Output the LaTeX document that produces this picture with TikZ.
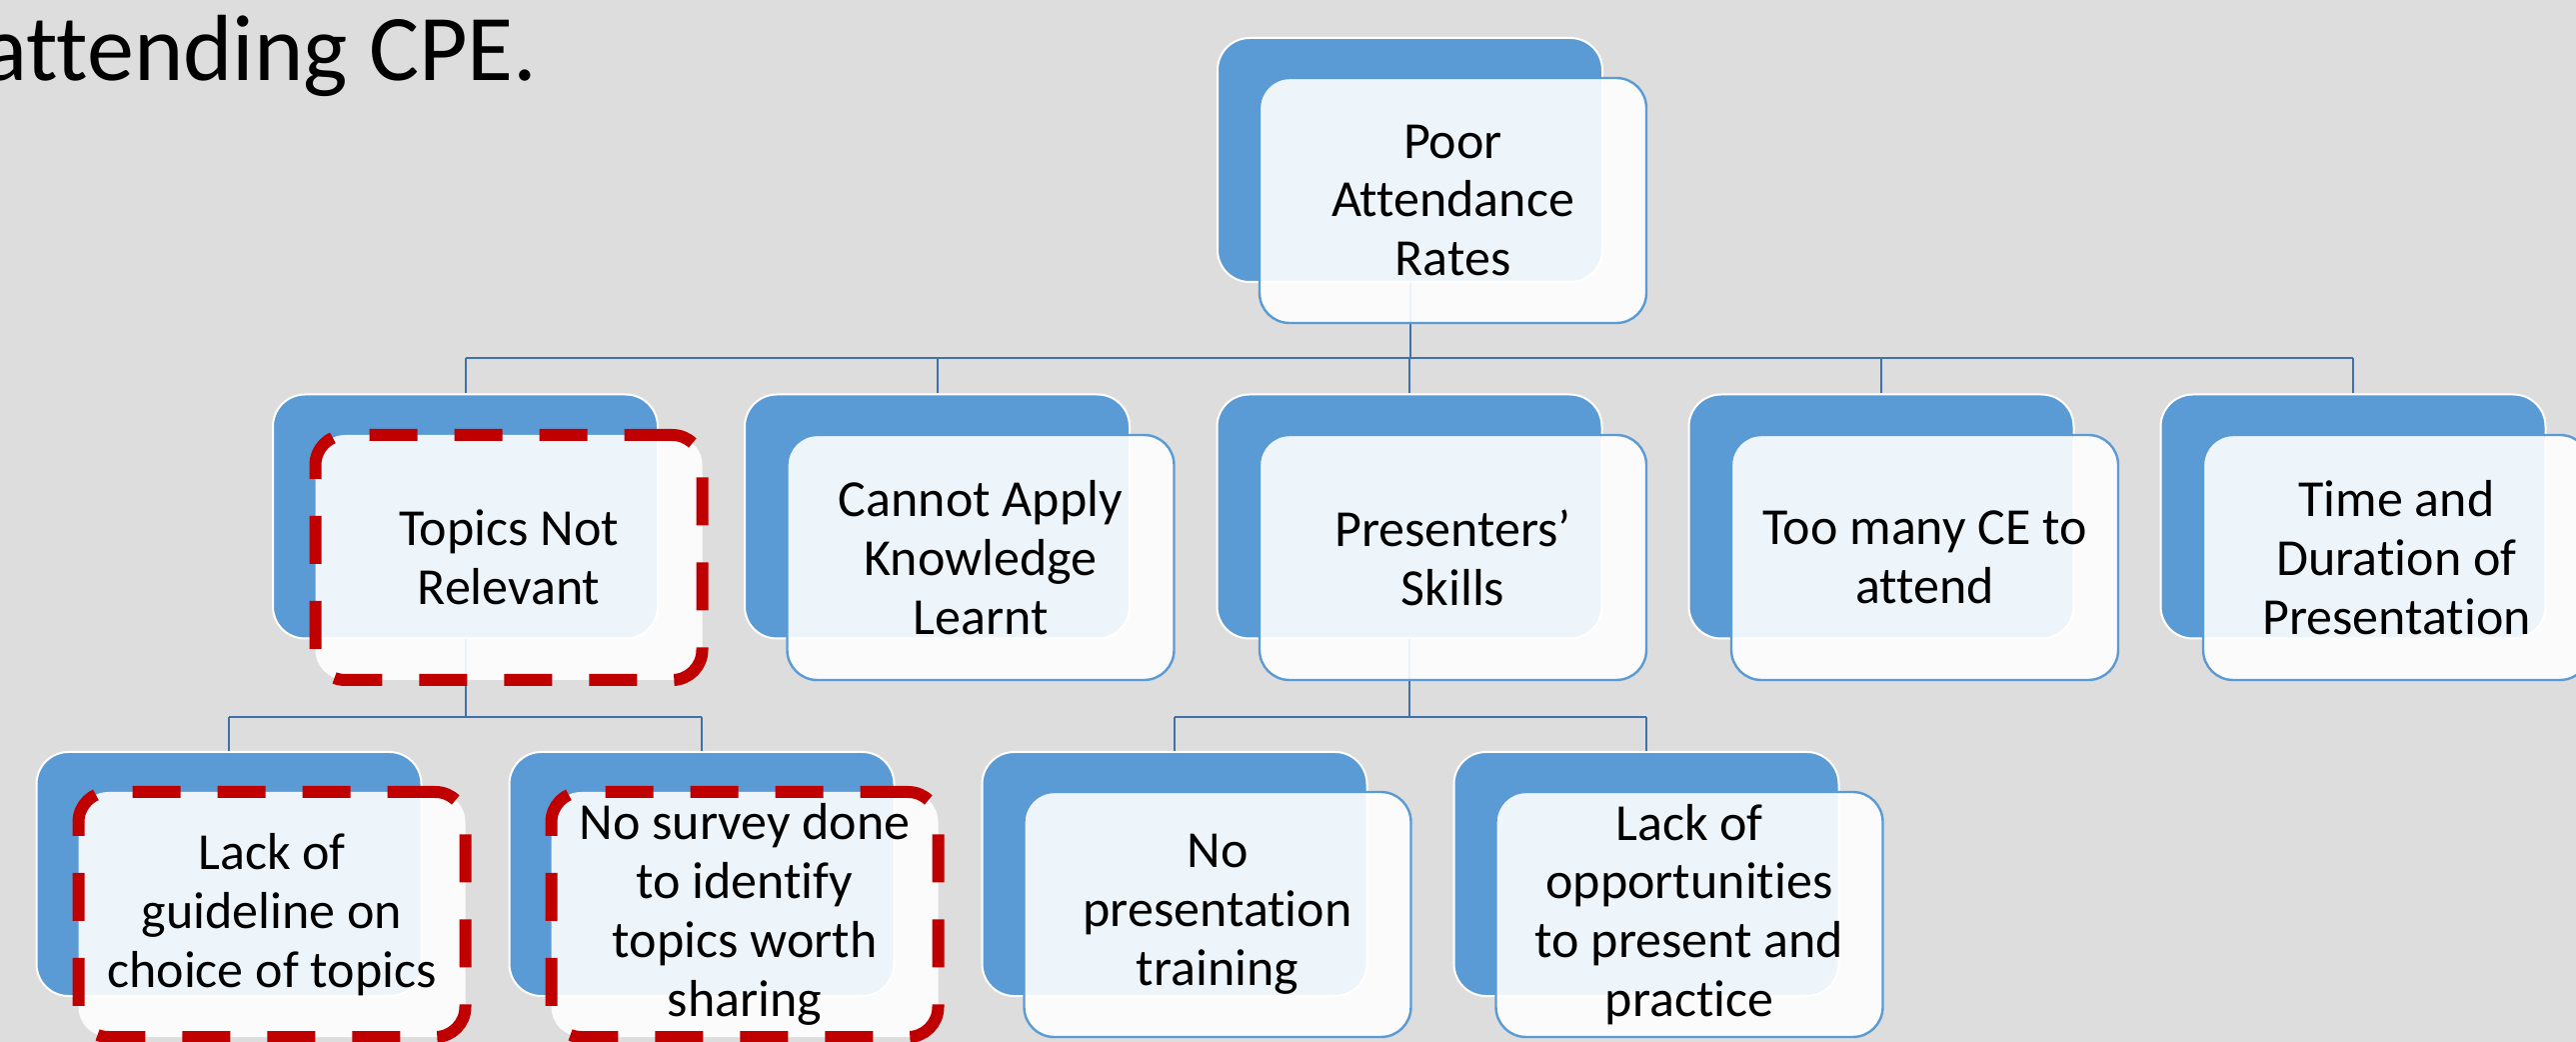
\documentclass[tikz,border=0pt]{standalone}
\usepackage{fontspec}
\setmainfont{Carlito}[RawFeature={-liga;-clig;-calt;-rlig;-dlig}]
\definecolor{bgcol}{RGB}{220,221,220}
\definecolor{boxblue}{RGB}{91,155,213}
\definecolor{lineblue}{RGB}{65,113,170}
\definecolor{hlred}{RGB}{192,0,0}
\tikzset{
  backbox/.style={draw=white, line width=1pt, fill=boxblue, rounded corners=16pt,
    minimum width=192.5pt, minimum height=122pt, inner sep=0pt},
  frontbox/.style={draw=boxblue, line width=1.2pt, fill=white, fill opacity=0.9, text opacity=1,
    rounded corners=15pt, minimum width=193.5pt, minimum height=122.5pt, inner sep=0pt,
    align=center, font=\fontsize{26}{29.4}\selectfont},
  hl/.style={draw=hlred, line width=6pt, dash pattern=on 24pt off 18.5pt},
  conn/.style={draw=lineblue, line width=1pt},
  titletext/.style={font=\fontsize{47}{50}\selectfont, inner sep=0pt}
}
\begin{document}
\begin{tikzpicture}[x=0.5pt,y=-0.5pt]
\useasboundingbox (0,0) rectangle (2577,1042);
\clip (0,0) rectangle (2577,1042);
\fill[bgcol] (0,0) rectangle (2577,1042);

\node[titletext, anchor=base east] (title) at (538,81) {attending CPE.};

% back boxes
\node[backbox] (b0) at (1410.5,160) {};
\node[backbox] (b1) at (465.5,516.5) {};
\node[backbox] (b2) at (937.5,516.5) {};
\node[backbox] (b3) at (1410,516.5) {};
\node[backbox] (b4) at (1882,516.5) {};
\node[backbox] (b5) at (2354,516.5) {};
\node[backbox] (b11) at (229,874) {};
\node[backbox] (b12) at (702,874) {};
\node[backbox] (b31) at (1175,874) {};
\node[backbox] (b32) at (1647,874) {};

% buses
\coordinate (busA) at (0,358);
\coordinate (busB) at (0,717);
\draw[conn] (b0.south) -- (b0.south |- busA);
\draw[conn] (b1.north |- busA) -- (b5.north |- busA);
\foreach \n in {b1,b2,b3,b4,b5} \draw[conn] (\n.north |- busA) -- (\n.north);
\draw[conn] (b1.south) -- (b1.south |- busB);
\draw[conn] (b11.north |- busB) -- (b12.north |- busB);
\foreach \n in {b11,b12} \draw[conn] (\n.north |- busB) -- (\n.north);
\draw[conn] (b3.south) -- (b3.south |- busB);
\draw[conn] (b31.north |- busB) -- (b32.north |- busB);
\foreach \n in {b31,b32} \draw[conn] (\n.north |- busB) -- (\n.north);

% front boxes
\node[frontbox] (f0) at (1453.5,200.5) {Poor\\Attendance\\Rates};
\node[frontbox, hl] (f1) at (509,557.5) {Topics Not\\Relevant};
\node[frontbox] (f2) at (981,557.5) {Cannot Apply\\Knowledge\\Learnt};
\node[frontbox] (f3) at (1453.5,557.5) {Presenters’\\Skills};
\node[frontbox] (f4) at (1925.5,557.5) {Too many CE to\\attend};
\node[frontbox] (f5) at (2397.5,557.5) {Time and\\Duration of\\Presentation};
\node[frontbox, hl] (f11) at (272,914.5) {Lack of\\guideline on\\choice of topics};
\node[frontbox, hl] (f12) at (745,914.5) {No survey done\\to identify\\topics worth\\sharing};
\node[frontbox] (f31) at (1218,914.5) {No\\presentation\\training};
\node[frontbox] (f32) at (1690,914.5) {Lack of\\opportunities\\to present and\\practice};
\end{tikzpicture}
\end{document}
